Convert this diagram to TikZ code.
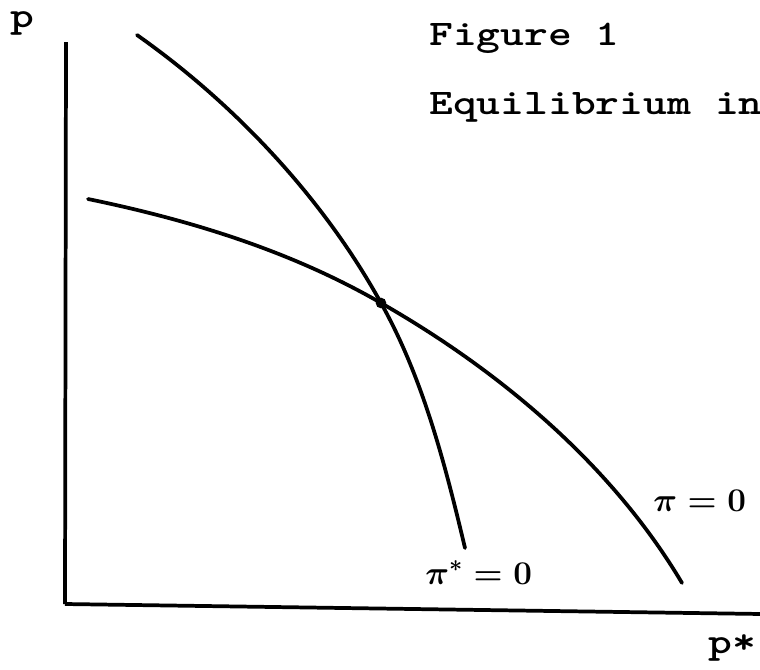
\documentclass[tikz,border=0pt]{standalone}
\usepackage{amsmath,bm,graphicx}
\usepackage{fontspec}
\newcommand{\wide}[1]{\scalebox{1.26}[1]{#1}}
\begin{document}
\begin{tikzpicture}[x=0.75pt,y=-0.75pt,
  curve/.style={line width=2.8pt,line cap=round,line join=round},
  axis/.style={line width=2.8pt},
  ttlabel/.style={inner sep=0pt,anchor=base west,font=\fontsize{27}{30}\selectfont\ttfamily\bfseries},
  mathlabel/.style={inner sep=0pt,anchor=base west,font=\fontsize{24}{26}\selectfont\boldmath}]
\useasboundingbox (0,0) rectangle (760,669);
\clip (0,0) rectangle (760,669);
% axes
\coordinate (ytop) at (66,42);
\coordinate (origin) at (65,604);
\coordinate (xend) at (762,614);
\draw[axis] (ytop) -- (origin);
\draw[axis] (origin) -- (xend);
% intersection
\coordinate (eqpt) at (381,303);
\coordinate (pistartop) at (137,35);
\coordinate (pistarbot) at (465,548);
\coordinate (pileft) at (88,199);
\coordinate (piright) at (682,583);
% curves
\draw[curve] (pistartop) .. controls (235,104) and (323,198) .. (eqpt)
  .. controls (423,378) and (445,464) .. (pistarbot);
\draw[curve] (pileft) .. controls (190,220) and (291,251) .. (eqpt)
  .. controls (500,371) and (612,465) .. (piright);
\node[circle,fill=black,inner sep=0pt,minimum size=8pt] (eq) at (eqpt) {};
% labels
\node[ttlabel] (ylab) at (10,27) {\wide{p}};
\node[ttlabel] (xlab) at (708,653) {\wide{p*}};
\node[ttlabel] (title) at (429,45) {\wide{Figure 1}};
\node[ttlabel] (subtitle) at (429,114) {\wide{Equilibrium in}};
\node[mathlabel] (pistar) at (425,584) {$\pi^{*} = 0$};
\node[mathlabel] (pi) at (653,511) {$\pi = 0$};
\end{tikzpicture}
\end{document}
